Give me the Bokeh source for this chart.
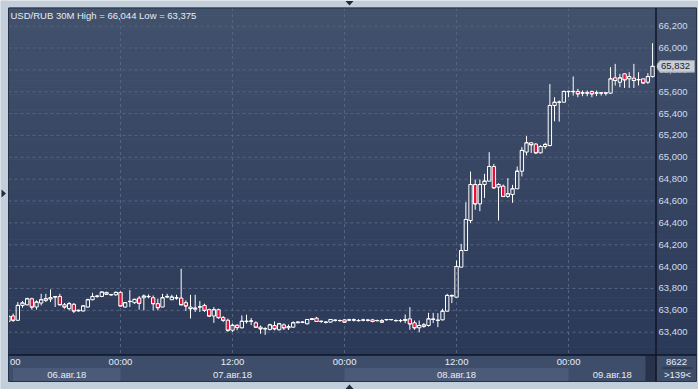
import numpy as np
from bokeh.plotting import figure
from bokeh.models import Range1d
from bokeh.core.properties import value
from bokeh.embed import file_html
from bokeh.resources import INLINE

# ---------------- data ----------------
TITLE = "USD/RUB 30M  High = 66,044 Low = 63,375"

OPEN = [63500, 63548, 63509, 63645, 63650, 63706, 63630, 63667, 63691, 63703,
        63721, 63727, 63651, 63615, 63655, 63594, 63594, 63630, 63697, 63727,
        63727, 63764, 63745, 63742, 63764, 63630, 63680, 63670, 63712, 63715,
        63724, 63715, 63661, 63630, 63721, 63697, 63712, 63712, 63670, 63630,
        63610, 63630, 63645, 63606, 63548, 63606, 63533, 63509, 63418, 63463,
        63440, 63497, 63500, 63486, 63446, 63430, 63425, 63461, 63422, 63467,
        63440, 63446, 63486, 63490, 63477, 63516, 63528, 63498, 63490, 63492,
        63507, 63505, 63513, 63510, 63510, 63505, 63510, 63508, 63513, 63505,
        63507, 63513, 63514, 63505, 63505, 63507, 63522, 63486, 63440, 63452,
        63461, 63516, 63507, 63513, 63592, 63730, 63720, 63995, 64147, 64422,
        64751, 64574, 64751, 64782, 64916, 64727, 64736, 64642, 64660, 64712,
        64873, 65048, 65133, 65121, 65041, 65099, 65108, 65474, 65504, 65504,
        65600, 65600, 65602, 65587, 65587, 65602, 65587, 65587, 65587, 65587,
        65727, 65687, 65764, 65718, 65724, 65709, 65718, 65687, 65739]

HIGH = [63550, 63570, 63676, 63685, 63715, 63715, 63691, 63751, 63751, 63791,
        63727, 63751, 63667, 63676, 63667, 63606, 63645, 63706, 63760, 63742,
        63773, 63770, 63750, 63773, 63773, 63676, 63785, 63706, 63730, 63745,
        63745, 63736, 63706, 63751, 63751, 63742, 63742, 63980, 63691, 63742,
        63742, 63685, 63661, 63615, 63630, 63615, 63548, 63524, 63479, 63473,
        63553, 63560, 63530, 63500, 63461, 63446, 63477, 63498, 63486, 63480,
        63470, 63500, 63500, 63500, 63520, 63530, 63540, 63505, 63498, 63520,
        63516, 63516, 63520, 63522, 63525, 63520, 63522, 63520, 63522, 63515,
        63520, 63520, 63520, 63516, 63520, 63562, 63629, 63507, 63507, 63483,
        63577, 63577, 63574, 63614, 63751, 63745, 64056, 64208, 64590, 64870,
        64797, 64797, 64849, 65047, 64940, 64764, 64751, 64809, 64748, 64916,
        65093, 65194, 65140, 65130, 65110, 65133, 65670, 65550, 65520, 65612,
        65610, 65740, 65626, 65611, 65611, 65611, 65611, 65590, 65590, 65825,
        65855, 65764, 65770, 65779, 65855, 65779, 65718, 65770, 66044]

LOW = [63495, 63494, 63505, 63624, 63645, 63606, 63606, 63645, 63676, 63676,
       63630, 63645, 63615, 63600, 63575, 63590, 63590, 63624, 63691, 63715,
       63721, 63740, 63733, 63733, 63640, 63625, 63630, 63660, 63606, 63600,
       63710, 63600, 63600, 63630, 63712, 63697, 63697, 63645, 63594, 63525,
       63585, 63585, 63585, 63540, 63485, 63524, 63494, 63403, 63403, 63418,
       63434, 63479, 63464, 63440, 63385, 63375, 63416, 63416, 63416, 63420,
       63420, 63440, 63483, 63483, 63470, 63510, 63495, 63485, 63480, 63488,
       63497, 63497, 63490, 63500, 63498, 63497, 63500, 63497, 63490, 63497,
       63485, 63505, 63508, 63495, 63490, 63483, 63422, 63422, 63400, 63440,
       63452, 63483, 63446, 63507, 63589, 63666, 63720, 63995, 64147, 64398,
       64520, 64507, 64629, 64780, 64712, 64422, 64636, 64630, 64584, 64712,
       64825, 65017, 65040, 65030, 65036, 65078, 65100, 65330, 65327, 65504,
       65550, 65565, 65550, 65559, 65559, 65550, 65560, 65565, 65565, 65581,
       65657, 65642, 65635, 65635, 65635, 65657, 65672, 65672, 65730]

CLOSE = [63545, 63509, 63645, 63667, 63706, 63630, 63676, 63697, 63706, 63715,
         63725, 63651, 63630, 63661, 63594, 63600, 63640, 63697, 63727, 63730,
         63767, 63748, 63742, 63764, 63640, 63670, 63682, 63700, 63664, 63730,
         63727, 63661, 63624, 63715, 63727, 63721, 63715, 63651, 63640, 63615,
         63620, 63632, 63600, 63548, 63606, 63533, 63509, 63418, 63463, 63442,
         63500, 63500, 63503, 63446, 63431, 63432, 63467, 63431, 63477, 63440,
         63450, 63486, 63492, 63492, 63516, 63522, 63498, 63500, 63492, 63516,
         63510, 63507, 63492, 63513, 63513, 63507, 63512, 63510, 63498, 63507,
         63492, 63516, 63516, 63507, 63507, 63516, 63476, 63440, 63461, 63467,
         63522, 63520, 63510, 63592, 63736, 63736, 64001, 64147, 64431, 64751,
         64574, 64751, 64782, 64916, 64721, 64751, 64642, 64666, 64712, 64873,
         65063, 65133, 65115, 65041, 65099, 65118, 65474, 65504, 65505, 65602,
         65603, 65603, 65581, 65590, 65590, 65581, 65590, 65590, 65590, 65718,
         65703, 65727, 65709, 65739, 65703, 65712, 65681, 65739, 65832]

PRICE_TICKS = [63400, 63600, 63800, 64000, 64200, 64400, 64600, 64800,
               65000, 65200, 65400, 65600, 65800, 66000, 66200]
PRICE_TICK_LABELS = ["63,400", "63,600", "63,800", "64,000", "64,200", "64,400",
                     "64,600", "64,800", "65,000", "65,200", "65,400", "65,600",
                     "65,800", "66,000", "66,200"]
TIME_TICK_BARS = [0, 24, 48, 72, 96, 120]
# the first label (12:00 at the left edge) is shown cut, as "00"
TIME_TICK_LABELS = ["00", "00:00", "12:00", "00:00", "12:00", "00:00"]
DAY_LABELS = ["06.авг.18", "07.авг.18", "08.авг.18", "09.авг.18"]
DAY_START_BARS = [-24, 24, 72, 120]
BARS_PER_DAY = 48
LAST_PRICE_LABEL = "65,832"
COUNTER_TOP = "8622"
COUNTER_BOTTOM = ">139<"

# ---------------- layout (pixels) ----------------
W, H = 698, 389
BAR0_PX, BAR_PX = 8.0, 4.667
REF_PRICE, REF_PY, PRICE_PER_PX = 66200.0, 25.67, 9.15
PANEL_L, PANEL_T, PANEL_R, PANEL_B = 8.0, 7.5, 696.0, 381.0
PLOT_R, PLOT_B = 655.5, 354.5
TIME_ROW_B = 367.5
HALF_TIME_LABEL_PX = 12.0


def X(px):
    return (px - BAR0_PX) / BAR_PX


def Y(py):
    return REF_PRICE - (py - REF_PY) * PRICE_PER_PX


LIGHT = "#c3cedb"
GRID = "#56657f"
TEXT = "#e6ecf5"
AXIS_TEXT = "#d2dcec"
RED = "#e2123a"
PANEL_BASE = "#3e4d6a"
BAND = "#4b5a78"
DARK_LINE = "#0f1626"
FONT = value("Liberation Sans")
FS = "9.5px"

p = figure(width=W, height=H, x_range=Range1d(X(0), X(W)), y_range=Range1d(Y(H), Y(0)),
           x_axis_type=None, y_axis_type=None, toolbar_location=None,
           output_backend="svg", min_border=0, title=None,
           background_fill_color=LIGHT, border_fill_color=LIGHT,
           outline_line_color=None)

# gradient background of chart + price panel
n = 48
edges = np.linspace(PANEL_T, PLOT_B, n + 1)
top_rgb = np.array([66, 81, 108])
bot_rgb = np.array([43, 57, 88])
cols = []
for k in range(n):
    t = (k + 0.5) / n
    cc = (top_rgb + (bot_rgb - top_rgb) * t).round().astype(int)
    cols.append("#%02x%02x%02x" % tuple(cc))
p.quad(left=[X(PANEL_L)] * n, right=[X(PANEL_R)] * n,
       top=[Y(e) for e in edges[:-1]], bottom=[Y(e) for e in edges[1:]],
       fill_color=cols, line_color=cols, line_width=0.8)

# bottom (time axis) panel
p.quad(left=[X(PANEL_L)], right=[X(PANEL_R)], top=[Y(PLOT_B)], bottom=[Y(PANEL_B)],
       fill_color=PANEL_BASE, line_color=None)
first_vis = X(12.5)
band_end = X(645)
for d, start in enumerate(DAY_START_BARS):
    if d % 2 == 0:
        l = max(start, first_vis)
        r = min(start + BARS_PER_DAY, band_end)
        p.quad(left=[l], right=[r], top=[Y(TIME_ROW_B)], bottom=[Y(PANEL_B)],
               fill_color=BAND, line_color=None)
p.quad(left=[X(645)], right=[X(PLOT_R)], top=[Y(PLOT_B)], bottom=[Y(PANEL_B)],
       fill_color="#28334b", line_color=None)

# grid
p.segment(x0=[X(PANEL_L)] * len(PRICE_TICKS), x1=[X(PLOT_R)] * len(PRICE_TICKS),
          y0=PRICE_TICKS, y1=PRICE_TICKS, line_color=GRID, line_dash="3 3", line_width=1)
p.segment(x0=TIME_TICK_BARS, x1=TIME_TICK_BARS,
          y0=[Y(PANEL_T)] * len(TIME_TICK_BARS), y1=[Y(PLOT_B)] * len(TIME_TICK_BARS),
          line_color=GRID, line_dash="3 3", line_width=1)

# candles
o = np.array(OPEN, dtype=float)
h = np.array(HIGH, dtype=float)
lo = np.array(LOW, dtype=float)
c = np.array(CLOSE, dtype=float)
idx = np.arange(len(o))
btop = np.maximum(o, c)
bbot = np.minimum(o, c)
hw = 0.36
p.segment(x0=idx, x1=idx, y0=btop, y1=h, line_color="white", line_width=1)
p.segment(x0=idx, x1=idx, y0=lo, y1=bbot, line_color="white", line_width=1)
up = c >= o
dn = ~up
p.quad(left=idx[up] - hw, right=idx[up] + hw, top=btop[up], bottom=bbot[up],
       fill_alpha=0, line_color="white", line_width=1)
p.quad(left=idx[dn] - hw, right=idx[dn] + hw, top=btop[dn], bottom=bbot[dn],
       fill_color=RED, line_color="white", line_width=1)
p.segment(x0=idx - hw, x1=idx + hw, y0=c, y1=c, line_color="white", line_width=1)

# left mask (clips the first candle at the panel edge)
p.quad(left=[X(0)], right=[X(PANEL_L)], top=[Y(0)], bottom=[Y(H)],
       fill_color=LIGHT, line_color=None)

# texts
p.text(x=[X(10)], y=[Y(14.5)], text=[TITLE], text_font=FONT, text_font_size=FS,
       text_color=TEXT, text_align="left", text_baseline="middle")
p.text(x=[X(658)] * len(PRICE_TICKS), y=PRICE_TICKS, text=PRICE_TICK_LABELS,
       text_font=FONT, text_font_size=FS, text_color=AXIS_TEXT,
       text_align="left", text_baseline="middle")
# first time label: only its right part is visible, right-aligned where the full label ends
p.text(x=[TIME_TICK_BARS[0] + HALF_TIME_LABEL_PX / BAR_PX], y=[Y(361)], text=[TIME_TICK_LABELS[0]],
       text_font=FONT, text_font_size=FS, text_color=TEXT,
       text_align="right", text_baseline="middle")
p.text(x=TIME_TICK_BARS[1:], y=[Y(361)] * (len(TIME_TICK_BARS) - 1), text=TIME_TICK_LABELS[1:],
       text_font=FONT, text_font_size=FS, text_color=TEXT,
       text_align="center", text_baseline="middle")
vis_l, vis_r = first_vis, X(PLOT_R)
day_centers = [(max(s, vis_l) + min(s + BARS_PER_DAY, vis_r)) / 2 for s in DAY_START_BARS]
p.text(x=day_centers, y=[Y(374)] * len(DAY_LABELS), text=DAY_LABELS,
       text_font=FONT, text_font_size=FS, text_color=TEXT,
       text_align="center", text_baseline="middle")
p.text(x=[X(676), X(677)], y=[Y(361), Y(373.5)], text=[COUNTER_TOP, COUNTER_BOTTOM],
       text_font=FONT, text_font_size=FS, text_color=TEXT,
       text_align="center", text_baseline="middle")
p.segment(x0=[X(662)], x1=[X(692)], y0=[Y(367.5)], y1=[Y(367.5)],
          line_color="#1f2a40", line_width=1)

# last price marker
last = CLOSE[-1]
dy = 5.8 * PRICE_PER_PX
p.patch(x=[X(655), X(659.5), X(694), X(694), X(659.5)],
        y=[last, last + dy, last + dy, last - dy, last - dy],
        fill_color="#c9cdd5", line_color="#98a1ae", line_width=1)
p.text(x=[X(660.5)], y=[last], text=[LAST_PRICE_LABEL], text_font=FONT,
       text_font_size=FS, text_color="#1b2233", text_align="left",
       text_baseline="middle")

# frame / separators
p.quad(left=[X(PANEL_L)], right=[X(PANEL_R)], top=[Y(PANEL_T)], bottom=[Y(PANEL_B)],
       fill_alpha=0, line_color="#27324a", line_width=1)
p.segment(x0=[X(PLOT_R)], x1=[X(PLOT_R)], y0=[Y(PANEL_T)], y1=[Y(PANEL_B)],
          line_color=DARK_LINE, line_width=1.5)
p.segment(x0=[X(PANEL_L)], x1=[X(PANEL_R)], y0=[Y(PLOT_B)], y1=[Y(PLOT_B)],
          line_color=DARK_LINE, line_width=1.5)

# small navigation arrows
ARROW = "#1e2a40"
p.patch(x=[X(345), X(353), X(349)], y=[Y(0.5), Y(0.5), Y(5)], fill_color=ARROW, line_color=None)
p.patch(x=[X(345), X(353), X(349)], y=[Y(388.5), Y(388.5), Y(384)], fill_color=ARROW, line_color=None)
p.patch(x=[X(1), X(1), X(5.5)], y=[Y(189), Y(197), Y(193)], fill_color=ARROW, line_color=None)

open("out.html", "w").write(file_html(p, INLINE))
